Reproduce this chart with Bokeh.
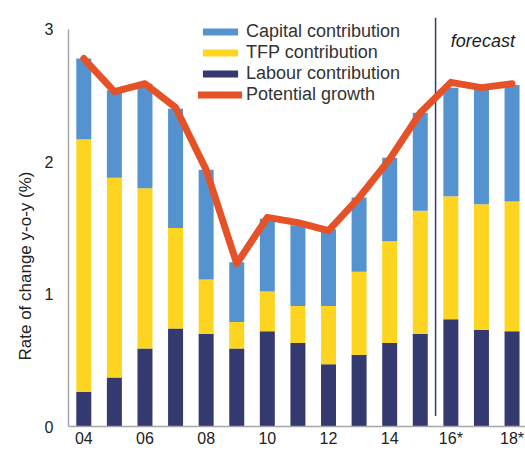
from bokeh.plotting import figure
from bokeh.models import (ColumnDataSource, FixedTicker, Legend, LegendItem, Title)
from bokeh.core.properties import value
from bokeh.embed import file_html
from bokeh.resources import INLINE

# ---- data ----
years = [2004, 2005, 2006, 2007, 2008, 2009, 2010, 2011, 2012, 2013, 2014, 2015, 2016, 2017, 2018]
labour = [0.26, 0.37, 0.59, 0.74, 0.70, 0.59, 0.72, 0.63, 0.47, 0.54, 0.63, 0.70, 0.81, 0.73, 0.72]
tfp = [1.91, 1.51, 1.21, 0.76, 0.41, 0.20, 0.30, 0.28, 0.44, 0.63, 0.77, 0.93, 0.93, 0.95, 0.98]
capital = [0.61, 0.66, 0.79, 0.90, 0.83, 0.45, 0.55, 0.61, 0.58, 0.56, 0.63, 0.74, 0.82, 0.87, 0.88]
potential = [2.78, 2.53, 2.59, 2.41, 1.94, 1.23, 1.58, 1.54, 1.48, 1.73, 2.02, 2.37, 2.60, 2.56, 2.59]
tick_years = [2004, 2006, 2008, 2010, 2012, 2014, 2016, 2018]
tick_labels = ["04", "06", "08", "10", "12", "14", "16*", "18*"]
y_ticks = [0, 1, 2, 3]
forecast_start = 2015.5

FONT = "Liberation Sans"
C_CAP = "#5493D0"
C_TFP = "#FDD520"
C_LAB = "#343A70"
C_LINE = "#E65228"

src = ColumnDataSource(dict(year=years, labour=labour, tfp=tfp, capital=capital, potential=potential))

p = figure(width=525, height=452, output_backend="svg", toolbar_location=None,
           x_range=(2003.5, 2018.44), y_range=(0, 3.09),
           min_border_left=68, min_border_right=0, min_border_top=17, min_border_bottom=26)

bars = p.vbar_stack(["labour", "tfp", "capital"], x="year", width=0.49, source=src,
                    color=[C_LAB, C_TFP, C_CAP], line_color=None)

# forecast divider
p.segment(x0=[forecast_start], y0=[0.08], x1=[forecast_start], y1=[3.09],
          line_color=C_LAB, line_width=1.5)

ln = p.line("year", "potential", source=src, line_color=C_LINE, line_width=7,
            line_join="round", line_cap="round")

p.text(x=[2016.0], y=[2.91], text=["forecast"], text_font=value(FONT),
       text_font_size="18px", text_font_style="italic", text_color="#222222",
       text_align="left", text_baseline="middle")

# axes
p.xgrid.visible = False
p.ygrid.visible = False
p.outline_line_color = None

for ax in (p.xaxis, p.yaxis):
    ax.axis_line_color = "#A6A6A6"
    ax.axis_line_width = 1.5
    ax.major_tick_line_color = None
    ax.minor_tick_line_color = None
    ax.major_tick_out = 0
    ax.major_tick_in = 0
    ax.minor_tick_out = 0
    ax.major_label_text_font = FONT
    ax.major_label_text_font_size = "16px"
    ax.major_label_text_color = "#222222"

p.xaxis.ticker = FixedTicker(ticks=tick_years)
p.xaxis.major_label_overrides = {y: l for y, l in zip(tick_years, tick_labels)}
p.xaxis.major_label_standoff = 3
p.yaxis.ticker = FixedTicker(ticks=y_ticks)
p.yaxis.major_label_standoff = 15
p.yaxis.bounds = (0, 3)

ylab = Title(text="Rate of change y-o-y (%)", align="left", offset=66, standoff=14,
             text_font=FONT, text_font_size="17px", text_font_style="normal",
             text_color="#222222")
p.add_layout(ylab, "left")

legend = Legend(items=[
    LegendItem(label="Capital contribution", renderers=[bars[2]]),
    LegendItem(label="TFP contribution", renderers=[bars[1]]),
    LegendItem(label="Labour contribution", renderers=[bars[0]]),
    LegendItem(label="Potential growth", renderers=[ln]),
], location=(130, 321))
legend.glyph_width = 44
legend.glyph_height = 9
legend.label_height = 20
legend.label_standoff = 4
legend.spacing = 0
legend.padding = 0
legend.margin = 0
legend.border_line_color = None
legend.background_fill_alpha = 0
legend.label_text_font = FONT
legend.label_text_font_size = "18px"
legend.label_text_color = "#333333"
p.add_layout(legend)

open("out.html", "w").write(file_html(p, INLINE))
